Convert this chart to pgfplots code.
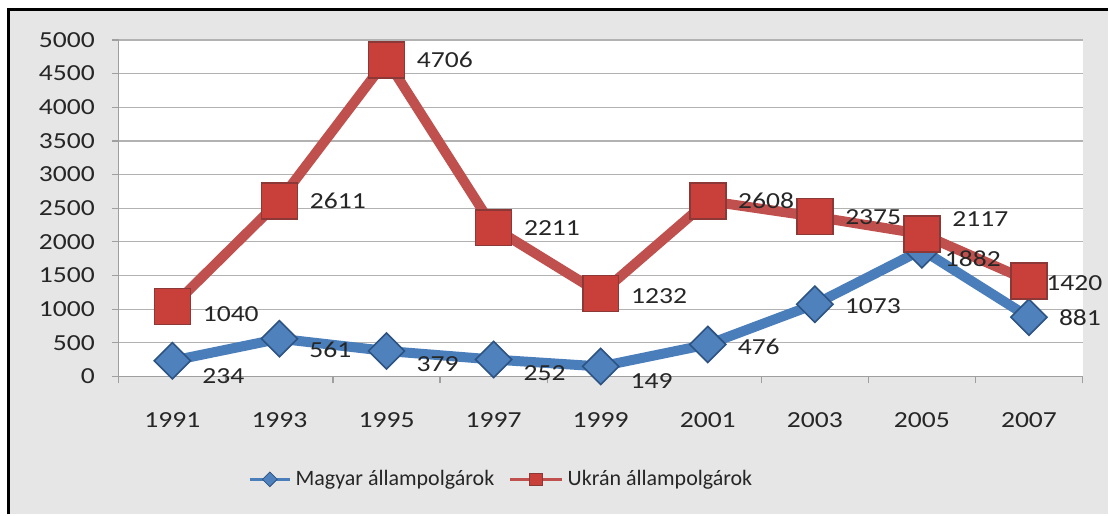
\documentclass[border=0pt]{standalone}
\usepackage{fontspec}
\setmainfont{Carlito}
\newfontfamily\numfont[FakeStretch=1.2]{Carlito}
\usepackage{pgfplots}
\usepackage{pgfplotstable}
\pgfplotsset{compat=1.18}
\pgfplotsset{
  shortlegend/.style={legend image code/.code={\draw[mark repeat=2,mark phase=2,##1] plot coordinates {(0pt,0pt) (10pt,0pt) (20pt,0pt)};}},
  longlegend/.style={legend image code/.code={\draw[mark repeat=2,mark phase=2,##1] plot coordinates {(0pt,0pt) (13pt,0pt) (26pt,0pt)};}},
}
\definecolor{redline}{HTML}{C0504D}
\definecolor{redfill}{HTML}{C9403A}
\definecolor{reddark}{HTML}{8C3836}
\definecolor{bluefill}{HTML}{4F81BD}
\definecolor{blueline}{HTML}{4A7EBB}
\definecolor{bluedark}{HTML}{2C5382}
\definecolor{bgtex}{HTML}{E6E6E6}
\definecolor{txt}{HTML}{262626}

\pgfplotstableread{
x y dx dy
0 234 0 -7.5
1 561 0 -5.5
2 379 0 -6.5
3 252 0 -7
4 149 0 -7.5
5 476 0 -1
6 1073 0 -1
7 1882 -3.5 -4.5
8 881 0 -0.5
}\magyar

\pgfplotstableread{
x y dx dy
0 1040 0 -4
1 2611 0 0
2 4706 0 0
3 2211 0 0
4 1232 0 -1.5
5 2608 0 0
6 2375 0 0
7 2117 0 7.5
8 1420 -6.5 -1
}\ukran

\begin{document}
\begin{tikzpicture}
\fill[white] (0,0) rectangle (554.5pt,257.5pt);
\fill[bgtex] (4.5pt,0) rectangle (554.5pt,252.5pt);
\draw[black, line width=1.5pt] (4.5pt,0) -- (4.5pt,252.5pt) -- (554.5pt,252.5pt);
\begin{axis}[
  at={(59.5pt,69pt)}, anchor=south west,
  width=482.5pt, height=168.5pt, scale only axis,
  xmin=-0.5, xmax=8.5, ymin=0, ymax=5000,
  clip=false,
  axis background/.style={fill=white},
  axis x line=bottom, axis y line=left,
  axis line style={-, draw=gray!75, line width=0.6pt},
  xtick={-0.5,0.5,...,8.5},
  x tick label as interval,
  xticklabels={1991,1993,1995,1997,1999,2001,2003,2005,2007},
  ytick={0,500,...,5000},
  tick align=outside,
  major tick length=3.5pt,
  tick style={draw=gray!75, line width=0.6pt},
  ymajorgrids,
  grid style={draw=gray!60, line width=0.6pt},
  ticklabel style={font=\numfont\fontsize{11.5}{13}\selectfont, text=txt},
  xticklabel style={yshift=-11pt},
  yticklabel style={xshift=-5pt},
  /pgf/number format/.cd, 1000 sep={}, assume math mode=true, fixed, precision=0,
  /pgfplots/.cd,
  legend style={at={(0.1275,-0.3056)}, anchor=west, draw=none, fill=none,
    font=\fontsize{11}{13}\selectfont, text=txt, legend columns=2,
    /tikz/every even column/.append style={column sep=5pt}},
  shortlegend,
]
\addlegendimage{blueline, line width=1.8pt, mark=square*, mark size=2.6pt, mark options={rotate=45, fill=bluefill, draw=bluedark, line width=0.4pt}}
\addlegendentry{Magyar állampolgárok}
\addlegendimage{redline, line width=1.8pt, mark=square*, mark size=3.2pt, mark options={fill=redfill, draw=reddark, line width=0.4pt}, longlegend}
\addlegendentry{Ukrán állampolgárok}

\addplot[forget plot, blueline, line width=5pt, mark=square*, mark size=6.4pt,
  mark options={rotate=45, fill=bluefill, draw=bluedark, line width=0.8pt}]
  table[x=x, y=y] {\magyar};

\addplot[forget plot, redline, line width=5pt, mark=square*, mark size=9pt,
  mark options={fill=redfill, draw=reddark, line width=0.8pt},
  visualization depends on={\thisrow{dx}\as\dx},
  visualization depends on={\thisrow{dy}\as\dy},
  nodes near coords,
  nodes near coords style={anchor=west, xshift={(11.5+\dx)*1pt}, yshift={\dy*1pt},
    font=\numfont\fontsize{11.5}{14}\selectfont, text=txt}]
  table[x=x, y=y] {\ukran};

\addplot[forget plot, draw=none, mark=none,
  visualization depends on={\thisrow{dx}\as\dx},
  visualization depends on={\thisrow{dy}\as\dy},
  nodes near coords,
  nodes near coords style={anchor=west, xshift={(11.5+\dx)*1pt}, yshift={\dy*1pt},
    font=\numfont\fontsize{11.5}{14}\selectfont, text=txt}]
  table[x=x, y=y] {\magyar};
\end{axis}
\end{tikzpicture}
\end{document}
